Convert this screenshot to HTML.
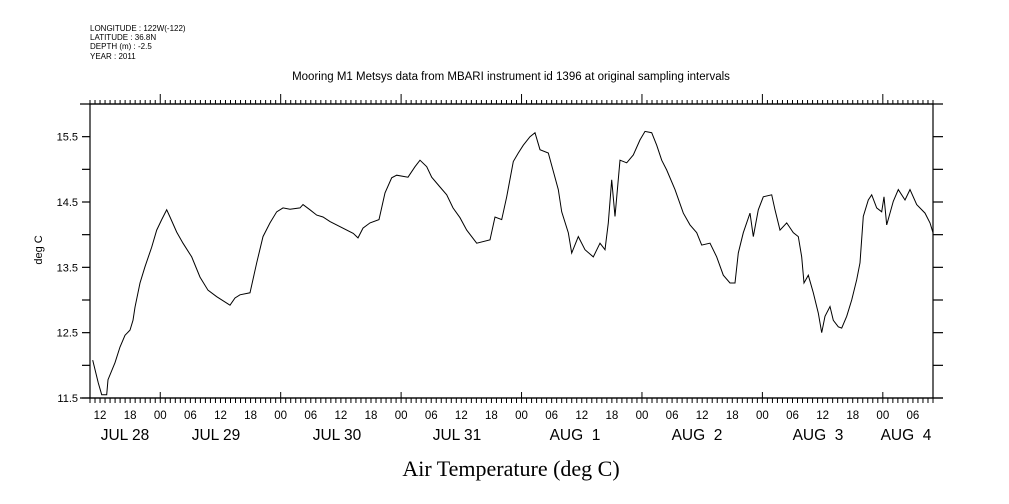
<!DOCTYPE html>
<html><head><meta charset="utf-8"><style>
html,body{margin:0;padding:0;background:#fff;}
svg{display:block;}
text{font-family:"Liberation Sans",sans-serif;fill:#000;}
</style></head><body>
<svg id="chart" width="1009" height="504" viewBox="0 0 1009 504" xmlns="http://www.w3.org/2000/svg">
<g font-size="8">
<text x="90" y="31">LONGITUDE : 122W(-122)</text>
<text x="90" y="40">LATITUDE : 36.8N</text>
<text x="90" y="49">DEPTH (m) : -2.5</text>
<text x="90" y="59">YEAR : 2011</text>
</g>
<text x="511" y="80" text-anchor="middle" font-size="11.5">Mooring M1 Metsys data from MBARI instrument id 1396 at original sampling intervals</text>
<text x="511" y="476" text-anchor="middle" font-size="22" style="font-family:'Liberation Serif',serif">Air Temperature (deg C)</text>
<text transform="translate(42,250) rotate(-90)" text-anchor="middle" font-size="11">deg C</text>
<g id="axes"></g>
<g id="series"></g>
</svg>
<script>
// hours since Jul 28 10:00 2011
const hours=[0.54,1.65,2.33,3.33,3.59,4.98,5.98,6.97,7.97,8.57,8.97,9.96,10.96,12.30,13.29,14.29,15.28,15.94,17.28,18.53,20.27,21.93,23.52,25.25,27.90,28.90,29.89,31.89,33.22,34.48,35.87,37.21,38.46,39.86,41.85,42.45,43.84,45.18,46.43,47.83,52.47,53.41,54.40,55.80,57.59,58.79,60.12,61.12,63.37,64.77,65.76,67.10,68.09,69.75,71.08,72.34,73.73,75.07,77.06,79.71,80.71,82.05,83.04,84.36,85.35,86.35,87.68,88.68,89.68,91.33,92.33,93.32,94.00,95.32,96.00,97.31,98.64,100.30,101.63,102.63,103.29,103.97,104.62,105.62,106.95,108.27,109.61,110.60,111.94,112.93,113.93,114.92,116.58,118.23,119.57,120.90,121.90,123.55,124.89,126.20,127.54,128.54,129.19,130.19,131.53,132.19,133.18,134.18,135.85,136.51,137.50,138.84,140.15,141.15,141.83,142.29,143.14,144.14,145.14,145.82,146.47,147.47,148.13,149.13,149.80,150.80,151.79,152.79,153.45,154.11,155.11,155.78,156.78,157.77,158.23,158.77,160.08,161.08,162.42,163.41,164.75,166.40,167.40,168.0];
const temps=[12.08,11.73,11.55,11.55,11.78,12.04,12.28,12.46,12.54,12.69,12.89,13.26,13.51,13.81,14.07,14.23,14.38,14.27,14.04,13.87,13.66,13.35,13.15,13.05,12.92,13.03,13.08,13.11,13.57,13.97,14.18,14.35,14.41,14.39,14.41,14.46,14.38,14.30,14.27,14.20,14.02,13.95,14.10,14.18,14.23,14.64,14.87,14.91,14.88,15.04,15.14,15.04,14.88,14.73,14.61,14.41,14.26,14.07,13.87,13.92,14.27,14.23,14.58,15.12,15.25,15.37,15.50,15.56,15.30,15.25,14.97,14.69,14.35,14.03,13.72,13.97,13.77,13.66,13.87,13.77,14.18,14.84,14.28,15.14,15.10,15.22,15.45,15.58,15.56,15.37,15.14,14.99,14.69,14.33,14.15,14.03,13.84,13.87,13.66,13.38,13.26,13.26,13.72,14.03,14.33,13.97,14.38,14.58,14.61,14.38,14.07,14.18,14.03,13.97,13.66,13.26,13.38,13.11,12.80,12.50,12.75,12.90,12.69,12.59,12.57,12.75,13.00,13.31,13.57,14.28,14.53,14.61,14.41,14.35,14.58,14.15,14.51,14.69,14.53,14.69,14.46,14.33,14.18,14.03];
const yTickLabels=["11.5","12.5","13.5","14.5","15.5"];
const hourLabels=["12","18","00","06","12","18","00","06","12","18","00","06","12","18","00","06","12","18","00","06","12","18","00","06","12","18","00","06"];
const dateLabels=["JUL 28","JUL 29","JUL 30","JUL 31","AUG  1","AUG  2","AUG  3","AUG  4"];
const dateLabelX=[125,216,337,457,575,697,818,906];

const L=90,R=933,T=104,B=398,H0=0,H1=168,V0=11.5,V1=16.0;
const xs=h=>L+(h-H0)/(H1-H0)*(R-L);
const ys=v=>B-(v-V0)/(V1-V0)*(B-T);
const NS="http://www.w3.org/2000/svg";
const axes=document.getElementById('axes');
function mk(tag,attrs,parent){const e=document.createElementNS(NS,tag);for(const k in attrs)e.setAttribute(k,attrs[k]);parent.appendChild(e);return e;}
let frame=mk('rect',{x:L,y:T,width:R-L,height:B-T,fill:'none',stroke:'#000','stroke-width':1.2},axes);


let topExt=mk('line',{x1:L-10,y1:T,x2:R+10,y2:T,stroke:'#000','stroke-width':1.2},axes);


let botExt=mk('line',{x1:L-10,y1:B,x2:R+10,y2:B,stroke:'#000','stroke-width':1.2},axes);


for(let h=H0;h<=H1;h++){
  const x=xs(h); const major=((h+10)%24===0);
  let t1=mk('line',{x1:x,y1:T,x2:x,y2:major?T-10:T-4,stroke:'#000','stroke-width':1},axes);
  
  
  let t2=mk('line',{x1:x,y1:major?B-6:B,x2:x,y2:B+5,stroke:'#000','stroke-width':1},axes);
  
  
}
for(let v=V0;v<=V1-0.49;v+=0.5){
  const y=ys(v);
  let a=mk('line',{x1:L-8,y1:y,x2:L,y2:y,stroke:'#000','stroke-width':1.2},axes);
  
  
  let b=mk('line',{x1:R,y1:y,x2:R+10,y2:y,stroke:'#000','stroke-width':1.2},axes);
  
  
}
yTickLabels.forEach(s=>{
  let t=mk('text',{x:L-12,y:ys(parseFloat(s))+4,'text-anchor':'end','font-size':11},axes);
  t.textContent=s;
  
  
});
hourLabels.forEach((s,i)=>{
  let t=mk('text',{x:xs(2+6*i),y:419,'text-anchor':'middle','font-size':11.5},axes);
  t.textContent=s;
  
  
});
dateLabels.forEach((s,i)=>{
  let t=mk('text',{x:dateLabelX[i],y:440,'text-anchor':'middle','font-size':15.5},axes);
  t.style.whiteSpace='pre';
  t.textContent=s;
  
  
});
const pts=hours.map((h,i)=>xs(h).toFixed(1)+','+ys(temps[i]).toFixed(1)).join(' ');
let line=mk('polyline',{points:pts,fill:'none',stroke:'#000','stroke-width':1,'stroke-linejoin':'miter'},document.getElementById('series'));


</script>
</body></html>
